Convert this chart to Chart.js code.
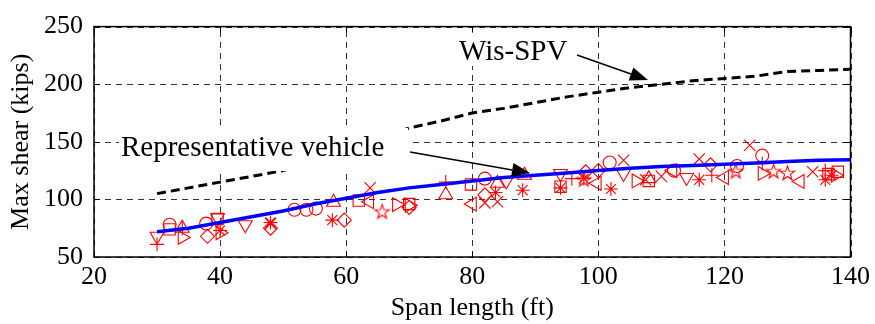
<!DOCTYPE html>
<html lang="en">
<head>
<meta charset="UTF-8">
<title>Max shear vs span length</title>
<script src="https://cdn.jsdelivr.net/npm/chart.js"></script>
<style>
  html, body { margin: 0; padding: 0; background: #fff; }
</style>
</head>
<body>
<canvas id="shearChart" width="875" height="324"></canvas>

<script>
// envelope curves (span in ft, max shear in kips)
const spans      = [30, 35, 40, 45, 50, 55, 60, 65, 70, 75, 80, 85, 90, 95, 100, 105, 110, 115, 120, 125, 130, 135, 140];
const wisSpv     = [105, 110, 115, 120, 125, 134, 145, 154, 162, 168, 175, 179, 184, 189, 193, 197, 200, 203, 205, 207, 211, 212, 213];
const repVehicle = [72, 75, 80, 85, 90, 96, 101, 106, 110, 113, 116, 119, 121, 123, 125, 127, 128.5, 129.5, 130.5, 131.5, 133, 134, 134.5];

// individual vehicles, one array per marker: [span, shear]
const circlePts   = [[32, 78], [37.8, 79], [51.8, 91], [53.7, 91], [55.2, 92], [82, 118], [101.8, 132], [112, 125], [122, 129], [126, 138]];
const xPts        = [[48, 79], [63.8, 110], [82, 97], [84, 98], [104, 134], [107.5, 117], [110, 120], [116, 135], [124, 147], [134, 124]];
const plusPts     = [[30, 61], [34, 75], [75.8, 115], [95.8, 118], [118, 121], [126, 131], [136, 125]];
const starPts     = [[40, 73], [48, 80], [57.8, 82], [83.7, 106], [88, 108], [94, 110], [97.7, 118], [102, 109], [116, 117], [136, 117], [137, 121]];
const squarePts   = [[32, 74], [39.6, 83], [62, 99], [70, 96], [79.8, 113], [94, 111], [108, 116], [136.5, 122], [138, 124]];
const diamondPts  = [[38, 68], [48, 75], [59.7, 82], [70, 93], [82, 104], [98, 124], [100, 125], [117.8, 130]];
const triUpPts    = [[34, 75], [58, 97.5], [75.8, 104], [84, 114], [88.3, 121], [108, 118]];
const triDownPts  = [[30, 68], [39.6, 84], [44, 78], [85.4, 116], [94, 122.5], [104, 122.5], [114, 119]];
const triRightPts = [[34, 67], [40, 71], [68, 95.5], [70, 95], [106, 116], [126, 122.5], [137.6, 121]];
const triLeftPts  = [[63.7, 98], [80, 96], [99.8, 114], [111.8, 125], [120, 119], [132, 115.6]];
const pentaPts    = [[65.7, 89], [97.7, 117], [121.8, 124], [127.8, 124], [130, 122.5]];

const xTicks = [20, 40, 60, 80, 100, 120, 140];
const yTicks = [50, 100, 150, 200, 250];

const RED = '#ff0000';
const serif = 'Liberation Serif, Times New Roman, serif';

function toXY(pts) {
    return pts.map(p => ({x: p[0], y: p[1]}));
}

// pentagram marker (not built into Chart.js)
function makePentagram(r) {
    const s = Math.ceil(r * 2 + 4);
    const c = document.createElement('canvas');
    c.width = s; c.height = s;
    const g = c.getContext('2d');
    g.strokeStyle = RED;
    g.lineWidth = 1.1;
    g.beginPath();
    for (let i = 0; i < 10; i++) {
        const a = -Math.PI / 2 + i * Math.PI / 5;
        const rr = i % 2 === 0 ? r : r * 0.4;
        g.lineTo(s / 2 + rr * Math.cos(a), s / 2 + rr * Math.sin(a));
    }
    g.closePath();
    g.stroke();
    return c;
}

function markerSet(pts, style, radius, rotation) {
    return {
        data: toXY(pts),
        showLine: false,
        pointStyle: style,
        pointRadius: radius,
        pointRotation: rotation || 0,
        pointBorderColor: RED,
        pointBackgroundColor: 'rgba(0,0,0,0)',
        pointBorderWidth: 1.1,
        order: 2
    };
}

const markerSets = [
    markerSet(circlePts, 'circle', 6.5),
    markerSet(xPts, 'crossRot', 8),
    markerSet(plusPts, 'cross', 7),
    markerSet(starPts, 'star', 7),
    markerSet(squarePts, 'rect', 8),
    markerSet(diamondPts, 'rectRot', 7),
    markerSet(triUpPts, 'triangle', 8),
    markerSet(triDownPts, 'triangle', 8, 180),
    markerSet(triRightPts, 'triangle', 8, 90),
    markerSet(triLeftPts, 'triangle', 8, 270),
    markerSet(pentaPts, makePentagram(7.5), 7.5)
];

function arrow(ctx, x0, y0, x1, y1) {
    const a = Math.atan2(y1 - y0, x1 - x0);
    const len = 18, hw = 7;
    const bx = x1 - len * Math.cos(a), by = y1 - len * Math.sin(a);
    ctx.beginPath();
    ctx.moveTo(x0, y0);
    ctx.lineTo(bx, by);
    ctx.stroke();
    ctx.beginPath();
    ctx.moveTo(x1, y1);
    ctx.lineTo(bx + hw * Math.sin(a), by - hw * Math.cos(a));
    ctx.lineTo(bx - hw * Math.sin(a), by + hw * Math.cos(a));
    ctx.closePath();
    ctx.fill();
}

const decor = {
    id: 'decor',
    beforeDatasetsDraw(chart) {
        const {ctx, chartArea: ca, scales} = chart;
        ctx.save();
        ctx.strokeStyle = 'rgba(0,0,0,0.8)';
        ctx.lineWidth = 1;
        ctx.setLineDash([6, 5]);
        xTicks.forEach(v => {
            const px = Math.round(scales.x.getPixelForValue(v)) + 0.5;
            ctx.beginPath(); ctx.moveTo(px, ca.bottom); ctx.lineTo(px, ca.top); ctx.stroke();
        });
        yTicks.forEach(v => {
            const py = Math.round(scales.y.getPixelForValue(v)) + 0.5;
            ctx.beginPath(); ctx.moveTo(ca.left, py); ctx.lineTo(ca.right, py); ctx.stroke();
        });
        ctx.restore();
    },
    afterDatasetsDraw(chart) {
        const {ctx, chartArea: ca, scales} = chart;
        ctx.save();
        // label boxes
        ctx.fillStyle = '#fff';
        ctx.fillRect(119, 128, 289, 43);
        ctx.fillRect(452, 32, 118, 34);
        ctx.fillStyle = '#000';
        ctx.font = '29px ' + serif;
        ctx.textBaseline = 'alphabetic';
        ctx.fillText('Representative vehicle', 121, 156);
        ctx.fillText('Wis-SPV', 459, 60);
        ctx.strokeStyle = '#000';
        ctx.lineWidth = 1.5;
        arrow(ctx, 410, 152, 530, 173);
        arrow(ctx, 577, 55, 648, 80);

        // frame and inward ticks
        ctx.lineWidth = 1.5;
        ctx.strokeRect(ca.left, ca.top, ca.right - ca.left, ca.bottom - ca.top);
        ctx.lineWidth = 1;
        xTicks.forEach(v => {
            const px = Math.round(scales.x.getPixelForValue(v)) + 0.5;
            ctx.beginPath();
            ctx.moveTo(px, ca.bottom); ctx.lineTo(px, ca.bottom - 6);
            ctx.moveTo(px, ca.top); ctx.lineTo(px, ca.top + 6);
            ctx.stroke();
        });
        yTicks.forEach(v => {
            const py = Math.round(scales.y.getPixelForValue(v)) + 0.5;
            ctx.beginPath();
            ctx.moveTo(ca.left, py); ctx.lineTo(ca.left + 6, py);
            ctx.moveTo(ca.right, py); ctx.lineTo(ca.right - 6, py);
            ctx.stroke();
        });
        ctx.restore();
    }
};

const ctx = document.getElementById('shearChart').getContext('2d');
new Chart(ctx, {
    type: 'scatter',
    data: {
        datasets: [
            {
                data: spans.map((s, i) => ({x: s, y: wisSpv[i]})),
                showLine: true,
                borderColor: '#000',
                borderWidth: 3,
                borderDash: [9, 5],
                pointRadius: 0,
                order: 1
            },
            {
                data: spans.map((s, i) => ({x: s, y: repVehicle[i]})),
                showLine: true,
                borderColor: '#0000ff',
                borderWidth: 3.5,
                pointRadius: 0,
                order: 1
            },
            ...markerSets
        ]
    },
    options: {
        responsive: false,
        animation: false,
        devicePixelRatio: 1,
        layout: { padding: { left: 0, top: 17, right: 23, bottom: 0 } },
        plugins: { legend: { display: false }, tooltip: { enabled: false } },
        scales: {
            x: {
                type: 'linear',
                min: 20,
                max: 140,
                afterBuildTicks: s => { s.ticks = xTicks.map(v => ({value: v})); },
                afterFit: s => { s.height = 67; },
                grid: { display: false, drawTicks: false },
                border: { display: false },
                ticks: { color: '#000', font: { family: serif, size: 26 }, padding: 5, maxRotation: 0 },
                title: { display: true, text: 'Span length (ft)', color: '#000', font: { family: serif, size: 26 }, padding: { top: 3, bottom: 0 } }
            },
            y: {
                type: 'linear',
                min: 50,
                max: 250,
                afterBuildTicks: s => { s.ticks = yTicks.map(v => ({value: v})); },
                afterFit: s => { s.width = 94; },
                grid: { display: false, drawTicks: false },
                border: { display: false },
                ticks: { color: '#000', font: { family: serif, size: 26 }, padding: 11 },
                title: { display: true, text: 'Max shear (kips)', color: '#000', font: { family: serif, size: 26 }, padding: { top: 6, bottom: 0 } }
            }
        }
    },
    plugins: [decor]
});
</script>
</body>
</html>
